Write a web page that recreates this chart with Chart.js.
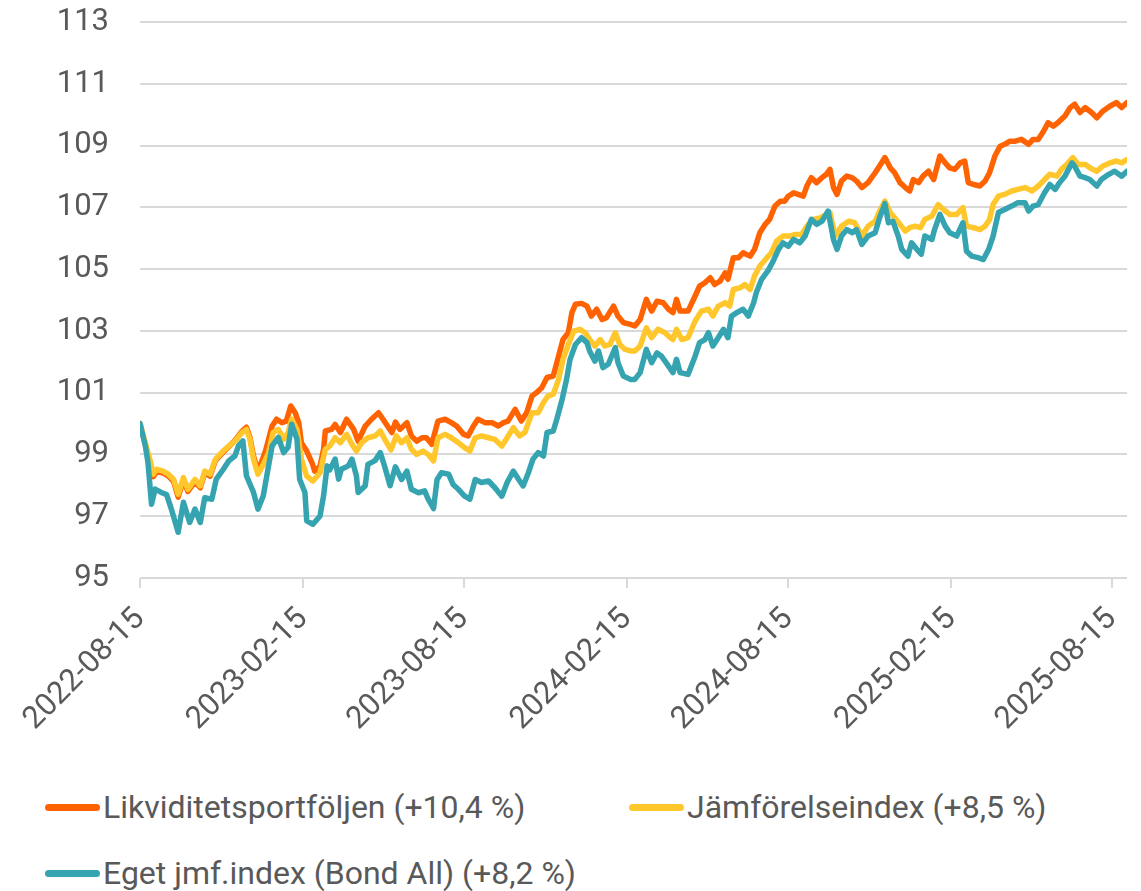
<!DOCTYPE html>
<html lang="sv">
    <head>
        <meta charset="UTF-8" />
        <meta name="viewport" content="width=device-width, initial-scale=1.0" />
        <title>Likviditetsportföljen</title>
        <script src="https://cdn.jsdelivr.net/npm/chart.js"></script>
        <style>
            html,
            body {
                margin: 0;
                padding: 0;
                background: #ffffff;
            }
            body {
                position: relative;
                width: 1141px;
                height: 891px;
                overflow: hidden;
                font-family: Roboto, "Noto Sans", sans-serif;
            }
            .chart-box {
                position: absolute;
                left: 0;
                top: 0;
                width: 1141px;
                height: 760px;
            }
            .legend-item {
                position: absolute;
                display: flex;
                align-items: center;
                height: 40px;
                font-size: 32px;
                color: #595959;
                white-space: nowrap;
            }
            .legend-line {
                width: 55px;
                height: 7px;
                border-radius: 4px;
                margin-right: 3px;
            }
        </style>
    </head>
    <body>
        <div class="chart-box"><canvas id="indexChart"></canvas></div>
        <div id="legend"></div>
        <script>
            // x = dagar efter 2022-08-15, y = indexvärde (start 100)
            const likviditet = [
                [0, 100.0], [6, 99.32], [11, 98.78], [15, 98.28], [19, 98.45], [26, 98.4], [32, 98.3], [38, 98.12],
                [43, 97.62], [49, 98.18], [54, 97.8], [62, 98.12], [68, 97.92], [73, 98.4], [79, 98.3], [85, 98.8],
                [92, 99.02], [100, 99.25], [107, 99.45], [115, 99.75], [120, 99.88], [124, 99.55], [128, 98.95], [133, 98.45],
                [141, 99.06], [149, 99.92], [154, 100.14], [160, 100.03], [165, 100.08], [170, 100.57], [175, 100.35], [179, 100.03],
                [182, 99.38], [188, 99.11], [194, 98.73], [197, 98.46], [203, 98.62], [207, 99.17], [209, 99.76], [216, 99.81],
                [220, 99.97], [226, 99.71], [233, 100.14], [241, 99.81], [246, 99.43], [254, 99.92], [261, 100.14], [269, 100.35],
                [274, 100.14], [284, 99.71], [288, 100.05], [293, 99.81], [301, 100.03], [306, 99.6], [312, 99.43], [318, 99.54],
                [323, 99.54], [329, 99.33], [336, 100.08], [344, 100.14], [351, 100.03], [357, 99.92], [365, 99.65], [370, 99.6],
                [376, 99.92], [381, 100.14], [389, 100.03], [397, 100.03], [404, 99.92], [410, 100.03], [415, 100.08], [423, 100.46],
                [430, 100.08], [436, 100.35], [442, 100.89], [447, 101.0], [453, 101.16], [459, 101.49], [466, 101.54], [472, 102.18],
                [477, 102.72], [483, 102.94], [487, 103.59], [491, 103.86], [498, 103.89], [504, 103.8], [509, 103.48], [515, 103.7],
                [521, 103.37], [526, 103.43], [534, 103.8], [539, 103.48], [545, 103.27], [553, 103.21], [558, 103.16], [564, 103.37],
                [571, 104.02], [577, 103.64], [583, 103.96], [590, 103.91], [596, 103.7], [601, 103.59], [605, 104.02], [609, 103.64],
                [618, 103.64], [626, 104.13], [631, 104.45], [637, 104.56], [643, 104.72], [648, 104.5], [654, 104.61], [660, 104.88],
                [663, 104.67], [669, 105.37], [675, 105.37], [680, 105.53], [688, 105.42], [693, 105.64], [699, 106.18], [705, 106.45],
                [710, 106.61], [716, 107.04], [722, 107.2], [727, 107.2], [731, 107.36], [737, 107.47], [742, 107.42], [748, 107.36],
                [752, 107.69], [757, 107.96], [763, 107.8], [769, 107.96], [774, 108.07], [778, 108.23], [782, 107.64], [786, 107.42],
                [791, 107.85], [797, 108.01], [803, 107.96], [808, 107.85], [814, 107.64], [821, 107.8], [829, 108.12], [834, 108.34],
                [840, 108.61], [846, 108.28], [851, 108.12], [857, 107.8], [863, 107.64], [868, 107.53], [872, 107.9], [878, 107.8],
                [883, 108.01], [889, 108.17], [895, 107.9], [902, 108.66], [908, 108.44], [913, 108.28], [919, 108.23], [925, 108.44],
                [930, 108.5], [934, 107.8], [940, 107.74], [947, 107.69], [953, 107.85], [958, 108.12], [964, 108.66], [970, 108.98],
                [975, 109.04], [981, 109.14], [987, 109.14], [994, 109.2], [1002, 109.04], [1007, 109.2], [1013, 109.2], [1019, 109.47],
                [1024, 109.74], [1030, 109.63], [1035, 109.74], [1043, 109.96], [1049, 110.23], [1054, 110.34], [1060, 110.07], [1066, 110.23],
                [1073, 110.07], [1079, 109.9], [1086, 110.12], [1094, 110.28], [1101, 110.39], [1107, 110.23], [1113, 110.39],
            ];

            const jamforelse = [
                [0, 100.0], [6, 99.38], [11, 98.84], [15, 98.36], [19, 98.52], [26, 98.46], [32, 98.36], [38, 98.19],
                [43, 97.71], [49, 98.25], [54, 97.87], [62, 98.19], [68, 97.98], [73, 98.46], [79, 98.36], [85, 98.84],
                [92, 99.06], [100, 99.27], [107, 99.43], [115, 99.71], [120, 99.81], [124, 99.49], [128, 98.84], [133, 98.36],
                [139, 98.68], [145, 99.06], [150, 99.71], [156, 99.81], [162, 99.49], [167, 99.71], [171, 100.14], [177, 99.81],
                [182, 98.84], [188, 98.3], [195, 98.14], [203, 98.41], [209, 99.17], [214, 99.27], [220, 99.54], [226, 99.38],
                [233, 99.65], [239, 99.33], [244, 99.11], [250, 99.38], [257, 99.54], [265, 99.6], [271, 99.76], [276, 99.49],
                [283, 99.15], [289, 99.6], [295, 99.38], [301, 99.54], [306, 99.17], [312, 99.0], [319, 99.11], [325, 99.0],
                [331, 98.79], [336, 99.54], [344, 99.65], [351, 99.54], [359, 99.38], [366, 99.22], [372, 99.11], [378, 99.54],
                [385, 99.6], [393, 99.54], [400, 99.49], [408, 99.27], [414, 99.54], [421, 99.87], [428, 99.6], [434, 99.71],
                [442, 100.35], [449, 100.35], [455, 100.68], [460, 100.89], [466, 100.95], [472, 101.43], [477, 102.08], [483, 102.56],
                [489, 102.99], [496, 103.05], [502, 102.94], [507, 102.72], [513, 102.51], [519, 102.72], [524, 102.51], [530, 102.56],
                [536, 102.94], [541, 102.56], [547, 102.4], [554, 102.35], [558, 102.35], [564, 102.51], [571, 103.1], [577, 102.78],
                [584, 103.05], [592, 102.94], [598, 102.78], [601, 102.72], [605, 103.05], [611, 102.72], [618, 102.78], [626, 103.32],
                [633, 103.64], [641, 103.7], [646, 103.48], [652, 103.8], [660, 103.91], [665, 103.8], [669, 104.34], [677, 104.4],
                [682, 104.5], [688, 104.34], [693, 104.78], [699, 105.1], [707, 105.37], [712, 105.53], [718, 105.91], [725, 106.07],
                [733, 106.07], [739, 106.12], [746, 106.12], [752, 106.39], [759, 106.61], [767, 106.66], [774, 106.77], [778, 106.83],
                [784, 106.07], [791, 106.39], [799, 106.55], [806, 106.5], [814, 106.07], [821, 106.39], [829, 106.55], [834, 106.88],
                [840, 107.2], [846, 106.83], [851, 106.66], [857, 106.45], [863, 106.23], [868, 106.34], [874, 106.39], [880, 106.34],
                [885, 106.61], [893, 106.72], [900, 107.09], [906, 106.93], [913, 106.77], [921, 106.77], [928, 106.99], [932, 106.39],
                [940, 106.34], [947, 106.28], [953, 106.39], [958, 106.61], [962, 107.09], [968, 107.36], [975, 107.42], [983, 107.53],
                [990, 107.58], [998, 107.64], [1006, 107.53], [1013, 107.69], [1020, 107.9], [1026, 108.07], [1034, 108.01], [1039, 108.23],
                [1045, 108.39], [1052, 108.61], [1058, 108.39], [1066, 108.39], [1071, 108.28], [1079, 108.17], [1086, 108.34], [1094, 108.44],
                [1101, 108.5], [1107, 108.44], [1113, 108.55],
            ];

            const egetIndex = [
                [0, 100.0], [6, 99.28], [9, 98.74], [13, 97.39], [17, 97.88], [24, 97.77], [30, 97.7], [36, 97.17],
                [43, 96.48], [49, 97.45], [56, 96.8], [62, 97.23], [68, 96.8], [73, 97.6], [81, 97.55], [86, 98.2],
                [94, 98.52], [100, 98.79], [107, 98.95], [111, 99.28], [116, 99.44], [120, 98.31], [128, 97.77], [133, 97.23],
                [139, 97.66], [143, 98.31], [149, 99.28], [156, 99.55], [162, 99.06], [167, 99.23], [171, 99.98], [177, 99.5],
                [180, 98.2], [186, 97.77], [188, 96.85], [195, 96.74], [203, 97.01], [207, 97.66], [211, 98.63], [214, 98.5],
                [220, 98.85], [224, 98.2], [227, 98.52], [235, 98.63], [239, 98.85], [244, 98.31], [246, 97.77], [254, 97.99],
                [257, 98.68], [265, 98.8], [271, 99.06], [276, 98.6], [282, 97.99], [288, 98.6], [295, 98.19], [301, 98.46],
                [306, 97.87], [314, 97.76], [321, 97.82], [325, 97.55], [331, 97.25], [335, 98.19], [340, 98.41], [348, 98.36],
                [353, 98.03], [359, 97.87], [366, 97.65], [372, 97.55], [378, 98.19], [385, 98.09], [393, 98.14], [400, 97.93],
                [408, 97.65], [414, 98.09], [421, 98.46], [427, 98.19], [432, 97.98], [438, 98.41], [443, 98.84], [449, 99.06],
                [455, 98.95], [459, 99.71], [466, 99.76], [470, 100.14], [476, 100.78], [481, 101.43], [485, 102.08], [491, 102.56],
                [498, 102.78], [504, 102.62], [507, 102.35], [513, 102.02], [517, 102.35], [522, 101.81], [528, 101.92], [536, 102.46],
                [539, 101.97], [545, 101.54], [553, 101.43], [558, 101.43], [564, 101.65], [571, 102.4], [577, 101.97], [583, 102.29],
                [588, 102.18], [596, 101.86], [601, 101.65], [605, 102.08], [609, 101.65], [618, 101.59], [626, 102.18], [631, 102.62],
                [637, 102.72], [641, 102.94], [646, 102.51], [652, 102.78], [658, 103.05], [663, 102.78], [667, 103.48], [673, 103.59],
                [680, 103.7], [686, 103.48], [692, 103.91], [695, 104.24], [701, 104.67], [708, 104.94], [714, 105.26], [720, 105.64],
                [725, 105.85], [731, 105.74], [737, 105.96], [744, 105.85], [750, 106.07], [757, 106.61], [763, 106.45], [769, 106.55],
                [776, 106.88], [782, 105.96], [786, 105.64], [791, 106.07], [797, 106.28], [803, 106.18], [808, 106.28], [814, 105.8],
                [821, 106.07], [829, 106.18], [834, 106.66], [840, 107.12], [844, 106.5], [849, 106.55], [855, 106.07], [859, 105.64],
                [866, 105.42], [870, 105.85], [876, 105.64], [881, 105.48], [885, 106.07], [893, 105.96], [896, 106.28], [902, 106.77],
                [908, 106.39], [913, 106.18], [921, 106.07], [928, 106.5], [932, 105.58], [938, 105.42], [945, 105.37], [951, 105.31],
                [957, 105.64], [962, 106.07], [968, 106.83], [975, 106.93], [983, 107.04], [990, 107.15], [998, 107.15], [1002, 106.88],
                [1007, 107.04], [1013, 107.09], [1020, 107.47], [1026, 107.74], [1032, 107.58], [1037, 107.8], [1043, 108.01], [1051, 108.44],
                [1054, 108.33], [1060, 108.01], [1066, 107.96], [1071, 107.9], [1079, 107.69], [1084, 107.9], [1092, 108.06], [1099, 108.17],
                [1107, 108.01], [1113, 108.17],
            ];

            const seriesNames = [
                "Likviditetsportföljen (+10,4 %)",
                "Jämförelseindex (+8,5 %)",
                "Eget jmf.index (Bond All) (+8,2 %)",
            ];
            const seriesColors = ["#ff6200", "#ffc72c", "#35a4b0"];

            const tickDays = [0, 184, 365, 549, 731, 915, 1096];
            const tickLabels = [
                "2022-08-15",
                "2023-02-15",
                "2023-08-15",
                "2024-02-15",
                "2024-08-15",
                "2025-02-15",
                "2025-08-15",
            ];
            const lastDay = 1113;

            const textColor = "#595959";
            const gridColor = "#d9d9d9";
            const canvasHeight = 760;

            Chart.defaults.font.family = "Roboto";
            Chart.defaults.color = textColor;

            const allSeries = [likviditet, jamforelse, egetIndex];
            const datasets = allSeries.map((points, i) => ({
                label: seriesNames[i],
                data: points.map(([d, v]) => ({ x: d, y: v })),
                borderColor: seriesColors[i],
                backgroundColor: seriesColors[i],
                borderWidth: 5.5,
                pointRadius: 0,
                tension: 0,
                borderJoinStyle: "round",
                borderCapStyle: "round",
                order: allSeries.length - i, // eget index overst
            }));

            const ctx = document.getElementById("indexChart").getContext("2d");
            const chart = new Chart(ctx, {
                type: "line",
                data: { datasets: datasets },
                options: {
                    responsive: true,
                    maintainAspectRatio: false,
                    animation: false,
                    layout: {
                        padding: { top: 22, right: 14, bottom: 0, left: 0 },
                    },
                    plugins: {
                        legend: { display: false },
                        tooltip: { enabled: false },
                    },
                    scales: {
                        x: {
                            type: "linear",
                            min: 0,
                            max: lastDay,
                            border: { display: false },
                            grid: {
                                drawOnChartArea: false,
                                drawTicks: true,
                                tickLength: 10,
                                color: gridColor,
                                lineWidth: 2,
                            },
                            ticks: {
                                autoSkip: false,
                                minRotation: 45,
                                maxRotation: 45,
                                padding: 13,
                                color: textColor,
                                font: { size: 31 },
                                callback: (value) => tickLabels[tickDays.indexOf(value)],
                            },
                            afterBuildTicks: (axis) => {
                                axis.ticks = tickDays.map((d) => ({ value: d }));
                            },
                            afterFit: (scale) => {
                                scale.height = canvasHeight - 578;
                                scale.paddingLeft = 0;
                                scale.paddingRight = 0;
                            },
                        },
                        y: {
                            min: 95,
                            max: 113,
                            border: { display: false },
                            grid: {
                                drawTicks: false,
                                color: gridColor,
                                lineWidth: 2,
                            },
                            ticks: {
                                stepSize: 2,
                                padding: 31,
                                color: textColor,
                                font: { size: 31 },
                            },
                            afterFit: (scale) => {
                                scale.width = 140;
                                scale.paddingTop = 0;
                                scale.paddingBottom = 0;
                            },
                        },
                    },
                },
            });

            // egen legend i två kolumner
            const legendSpots = [
                [45, 787],
                [629, 787],
                [45, 853],
            ];
            const legendBox = document.getElementById("legend");
            chart.data.datasets.forEach((ds, i) => {
                const item = document.createElement("div");
                item.className = "legend-item";
                item.style.left = legendSpots[i][0] + "px";
                item.style.top = legendSpots[i][1] + "px";
                const line = document.createElement("span");
                line.className = "legend-line";
                line.style.background = ds.borderColor;
                const text = document.createElement("span");
                text.textContent = ds.label;
                item.appendChild(line);
                item.appendChild(text);
                legendBox.appendChild(item);
            });
        </script>
    </body>
</html>
